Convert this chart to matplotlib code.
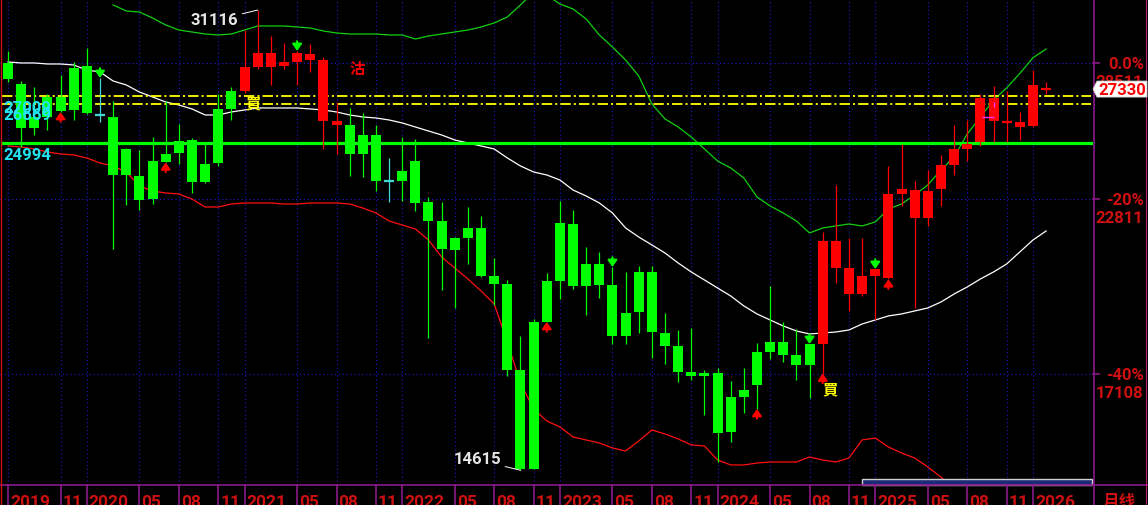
import numpy as np
import pandas as pd
import matplotlib
matplotlib.use('Agg')
import matplotlib.pyplot as plt
from matplotlib import font_manager
from matplotlib.patches import Rectangle, Polygon
from matplotlib.lines import Line2D

W, H = 1148, 505
plt.rcParams['lines.scale_dashes'] = False

# monthly bars, 2019-07 .. 2026-02
months = pd.period_range('2019-07', '2026-02', freq='M')

opens = [28526, 27559, 26106, 26977, 26977, 28292, 28386, 26192, 26106, 24769,
         23695, 24285, 24567, 25096, 25137, 24167, 26451, 27244, 27244, 28339,
         28339, 28386, 28573, 28666, 25934, 25765, 25765, 25345, 25345, 23501,
         23890, 24285, 22704, 22007, 21401, 21756, 21756, 20107, 19845, 17231,
         18644, 19942, 21935, 21899, 20507, 20507, 19812, 18922, 20239, 20239,
         18310, 17923, 17175, 17147, 17147, 16484, 16674, 17748, 18041, 18041,
         17661, 17982, 17982, 20372, 19521, 19521, 20107, 20041, 23005, 22116,
         22116, 23194, 24127, 24769, 25055, 25934, 25892, 25680, 25723, 27310]
highs = [29094, 27695, 27424, 27110, 27970, 28573, 29237, 27832, 26800, 24810,
         24728, 25262, 26800, 25807, 25220, 25014, 27110, 27424, 30113, 31116,
         29819, 29478, 29094, 29430, 28809, 26757, 26494, 26278, 25765, 24406,
         25262, 25179, 22891, 22704, 21436, 22518, 22189, 20709, 19975, 18220,
         18736, 20206, 22741, 22407, 21087, 20915, 20406, 20239, 20440, 20440,
         18922, 18400, 18461, 17231, 17288, 16922, 17288, 18012, 19779, 18644,
         18431, 17982, 21613, 23348, 21401, 21401, 20339, 24087, 24973, 23501,
         23929, 24526, 25765, 25977, 27110, 27469, 27244, 26321, 28199, 27650]
lows = [27650, 24851, 25345, 25553, 26321, 25977, 26250, 25892, 21018, 22593,
        22407, 22630, 24230, 24167, 23043, 23424, 24087, 25977, 27155, 28246,
        27514, 28246, 27514, 28107, 24769, 24567, 23695, 23656, 23118, 22704,
        22741, 22371, 18160, 19649, 19078, 20507, 20074, 19172, 17062, 14615,
        14645, 18644, 19361, 19681, 18860, 19393, 17982, 17982, 18310, 17574,
        17402, 16895, 16950, 16004, 14814, 15310, 16056, 16162, 17545, 17459,
        16950, 16456, 17130, 19877, 18984, 19457, 18705, 20000, 22555, 19078,
        21827, 22555, 23734, 24285, 24891, 25055, 25055, 25137, 25700, 27110]
closes = [27786, 25638, 25638, 26106, 26364, 26407, 26278, 26192, 23734, 23734,
          22778, 22816, 24246, 24607, 23462, 23462, 24206, 26451, 28339, 28998,
          28998, 28573, 28998, 28951, 28666, 25934, 24567, 24567, 23501, 23501,
          23501, 22667, 22007, 21018, 20983, 21401, 20107, 19845, 17231, 14645,
          14645, 18644, 19942, 19779, 19779, 19812, 18220, 18220, 18953, 18340,
          17923, 17175, 17062, 17062, 15538, 15563, 16484, 16812, 17748, 17661,
          17374, 17374, 21295, 21295, 20372, 20107, 20339, 23005, 23194, 23156,
          23118, 24127, 24769, 24973, 26933, 26933, 25892, 25892, 27514, 27330]

nan = np.nan
bb_upper = [nan] * 8 + [
    31377, 31068, 31017, 30714, 30363, 30113, 30015, 29917, 29868, 29917,
    30113, 30313, 30313, 30313, 30263, 30213, 30064, 29966, 29917, 29917,
    29917, 29868, 29868, 29672, 29819, 29917, 30015, 30113, 30263, 30463,
    30765, 31377, 32050, 31890, 31428, 31170, 30663, 29868, 29285, 28666,
    27924, 26669, 26020, 25680, 25262, 24769, 24285, 24008, 23617, 22891,
    22555, 22298, 22007, 21578, 21756, 21827, 21899, 21827, 21971, 22444,
    22630, 22967, 23348, 23929, 24446, 25387, 26106, 26844, 27380, 28040,
    28770, 29189]
bb_mid = [28573, 28526, 28526, 28479, 28479, 28432, 28199, 28107, 27695, 27514,
          27199, 26977, 26757, 26625, 26451, 26192, 26192, 26321, 26407, 26494,
          26494, 26494, 26494, 26451, 26407, 26321, 26192, 26106, 26063, 25977,
          25850, 25680, 25511, 25345, 25137, 25014, 24891, 24769, 24406, 24087,
          23851, 23734, 23539, 23156, 22929, 22667, 22298, 21756, 21436, 21157,
          20880, 20540, 20239, 19975, 19714, 19457, 19141, 18891, 18705, 18522,
          18370, 18280, 18310, 18340, 18400, 18583, 18705, 18829, 18891, 18984,
          19078, 19266, 19521, 19747, 20008, 20239, 20507, 20915, 21330, 21648]
bb_lower = [24892, 24851, 24769, 24647, 24567, 24527, 24406, 24206, 24087, 23851,
            23309, 23118, 23043, 23005, 22816, 22518, 22518, 22630, 22667, 22667,
            22667, 22630, 22630, 22667, 22667, 22667, 22630, 22481, 22298, 22007,
            21863, 21720, 21330, 20744, 20372, 20008, 19617, 19203, 18041, 16867,
            16162, 15846, 15692, 15436, 15360, 15285, 15159, 15084, 15335, 15614,
            15512, 15385, 15235, 15209, 14863, 14742, 14742, 14790, 14814, 14814,
            14814, 14937, 14863, 14814, 14912, 15360, 15410, 15184, 15035, 14912,
            14693, 14450, 14190] + [nan] * 7

ref_price = 28511          # 0.0% line
pct_levels = [0, -20, -40]
pct_values = [28511, 22811, 17108]
support = 24994
yellow_levels = [27009, 26669]
last_price = 27330
high_idx, low_idx = 19, 39

red_up_idx = [4, 12, 41, 57, 62, 67]
green_down_idx = [7, 22, 46, 61, 66]
doji_colors = {7: '#40d8d8', 29: '#40d8d8', 76: '#ff0000'}
signals = [('買', 18.65, 26680, '#ffff00'), ('沽', 26.6, 28250, '#ff0000'),
           ('買', 62.55, 16680, '#ffff00')]

RED, GREEN, CYAN = '#ff0000', '#00ff00', '#22e4f0'
BLUE, PURPLE, AXRED = '#1a1ad6', '#8a1a8a', '#d01010'

names = {f.name for f in font_manager.fontManager.ttflist}
if 'Roboto' in names:
    NUM_FONT, NUM_SIZE, AX_SIZE = 'Roboto', 12, 12.5
else:
    NUM_FONT, NUM_SIZE, AX_SIZE = 'DejaVu Sans', 10, 10.5
CJK = ['Noto Sans CJK TC', 'DejaVu Sans']

fig = plt.figure(figsize=(W / 100, H / 100), dpi=100, facecolor='black')
ax = fig.add_axes([0, 20 / H, 1093 / W, 485 / H])
ax.set_facecolor('black')
ax.set_yscale('log')
ax.set_xlim(-0.609, 82.57)
ax.set_ylim(14265, 31634)
ax.axis('off')

x = np.arange(len(opens))
o, hi, lo, c = map(np.array, (opens, highs, lows, closes))
colors = [RED if cc > oo else GREEN for oo, cc in zip(o, c)]
for i, col in doji_colors.items():
    colors[i] = col

# grid
for p in pct_values:
    ax.axhline(p, color=BLUE, lw=0.8, ls=(0, (0.8, 2.0)), zorder=1)
tick_idx = [i for i, m in enumerate(months) if i == 0 or (i > 2 and m.month in (1, 5, 8, 11))]
tick_lab = [str(months[i].year) if (i == 0 or months[i].month == 1) else '%02d' % months[i].month
            for i in tick_idx]
for i in tick_idx:
    ax.axvline(i, color=BLUE, lw=0.8, ls=(0, (0.8, 2.0)), zorder=1)

# bollinger bands
ax.plot(x, bb_upper, color='#10d010', lw=0.9, zorder=2)
ax.plot(x, bb_mid, color='white', lw=0.9, zorder=2)
ax.plot(x, bb_lower, color='#ff1010', lw=0.9, zorder=2)

# levels
ax.axhline(support, xmin=2 / 1093, xmax=1091 / 1093, color=GREEN, lw=2.3, zorder=3)
for lv in yellow_levels:
    ax.axhline(lv, xmin=2 / 1093, xmax=1091 / 1093, color='#ffff00', lw=1.3,
               ls=(0, (7.5, 2.2, 1.5, 2.2)), zorder=3)

# candles
ax.vlines(x, lo, hi, colors=colors, lw=0.9, zorder=4)
bot = np.minimum(o, c)
top = np.maximum(o, c)
ax.bar(x, top - bot, bottom=bot, width=0.76, color=colors, linewidth=0, zorder=5)
thin = np.log(top / bot) * 609 < 2.5
for i in np.where(thin)[0]:
    ax.hlines(np.sqrt(top[i] * bot[i]), i - 0.38, i + 0.38, colors=colors[i], lw=1.6, zorder=5)

# magenta marker
ax.hlines(26106, 74.1, 75.0, colors='#ff30ff', lw=1.0, zorder=6)
ax.vlines(75.0, 26538, 26757, colors='#ff30ff', lw=1.0, zorder=6)

# arrows
for i in red_up_idx:
    ax.annotate('', xy=(i, lo[i]), xytext=(0, -7), textcoords='offset points',
                arrowprops=dict(arrowstyle='-|>,head_length=0.4,head_width=0.28', color=RED,
                                lw=1.5, shrinkA=0, shrinkB=0), zorder=7)
for i in green_down_idx:
    ax.annotate('', xy=(i, hi[i]), xytext=(0, 7), textcoords='offset points',
                arrowprops=dict(arrowstyle='-|>,head_length=0.4,head_width=0.28', color=GREEN,
                                lw=1.5, shrinkA=0, shrinkB=0), zorder=7)

for s, xi, yp, col in signals:
    ax.text(xi, yp, s, color=col, fontsize=11, family=CJK, fontweight='bold',
            ha='center', va='center', zorder=8)

# extreme labels
ax.annotate(str(highs[high_idx]), xy=(high_idx, highs[high_idx]), xytext=(-14, -7.5),
            textcoords='offset points', ha='right', va='center', color='#e6e6e6',
            fontsize=NUM_SIZE, family=NUM_FONT, fontweight='bold',
            arrowprops=dict(arrowstyle='-', color='white', lw=0.7, shrinkA=1, shrinkB=0), zorder=8)
ax.annotate(str(lows[low_idx]), xy=(low_idx, lows[low_idx]), xytext=(-14, 7.5),
            textcoords='offset points', ha='right', va='center', color='#e6e6e6',
            fontsize=NUM_SIZE, family=NUM_FONT, fontweight='bold',
            arrowprops=dict(arrowstyle='-', color='white', lw=0.7, shrinkA=1, shrinkB=0), zorder=8)

fig.canvas.draw()


def ypix(price):
    return ax.transData.transform((0, price))[1]


def xpix(i):
    return ax.transData.transform((i, 0))[0]


# left labels
for lv in yellow_levels + [support]:
    fig.text(3 / W, (ypix(lv) - 16.5) / H, str(lv), color=CYAN, family=NUM_FONT,
             fontsize=NUM_SIZE, fontweight='bold', ha='left', va='baseline')

# frame lines
fig.add_artist(Line2D([0, 1], [20 / H, 20 / H], color=PURPLE, lw=1.2))
fig.add_artist(Line2D([1093.5 / W] * 2, [0, 1], color=PURPLE, lw=1.2))
fig.add_artist(Line2D([1146 / W] * 2, [0, 1], color='#b0206a', lw=0.8))
fig.add_artist(Line2D([1.2 / W] * 2, [0, 1], color=AXRED, lw=1.0))

# right axis labels
for pct, val in zip(pct_levels, pct_values):
    yp = ypix(val)
    fig.add_artist(Line2D([1093 / W, 1099 / W], [yp / H] * 2, color=PURPLE, lw=1.2))
    fig.text(1144 / W, (yp - 5.5) / H, '%.1f%%' % pct if pct == 0 else '%d%%' % pct,
             color=AXRED, family=NUM_FONT, fontsize=NUM_SIZE, fontweight='bold',
             ha='right', va='baseline')
    fig.text(1143 / W, (yp - 24) / H, str(val), color=AXRED, family=NUM_FONT,
             fontsize=NUM_SIZE, fontweight='bold', ha='right', va='baseline')

# last price box
yl = ypix(last_price)
box = Polygon([(1093, yl), (1097, yl + 8), (1147, yl + 8), (1147, yl - 8), (1097, yl - 8)],
              closed=True, facecolor='white', edgecolor='#cccccc', lw=0.6,
              transform=None, zorder=20)
fig.add_artist(box)
fig.text(1146 / W, (yl - 6) / H, str(last_price), color=RED, family=NUM_FONT,
         fontsize=NUM_SIZE, fontweight='bold', ha='right', va='baseline', zorder=21)

# scrollbar
fig.add_artist(Rectangle((862 / W, 20.5 / H), 230 / W, 6 / H, facecolor='#1c2a78',
                         edgecolor='#d0d0d0', lw=1.0))

# bottom axis
for i, lab in zip(tick_idx, tick_lab):
    xp = xpix(i)
    fig.add_artist(Line2D([xp / W] * 2, [0, 20 / H], color=PURPLE, lw=1.2))
    fig.text((xp + 2) / W, -2 / H, lab, color=AXRED, family=NUM_FONT, fontsize=AX_SIZE,
             fontweight='bold', ha='left', va='baseline')
fig.text(1103 / W, -2 / H, '月线', color=AXRED, family=CJK, fontsize=12,
         fontweight='bold', ha='left', va='baseline')

fig.savefig('out.png', dpi=100, facecolor='black')
